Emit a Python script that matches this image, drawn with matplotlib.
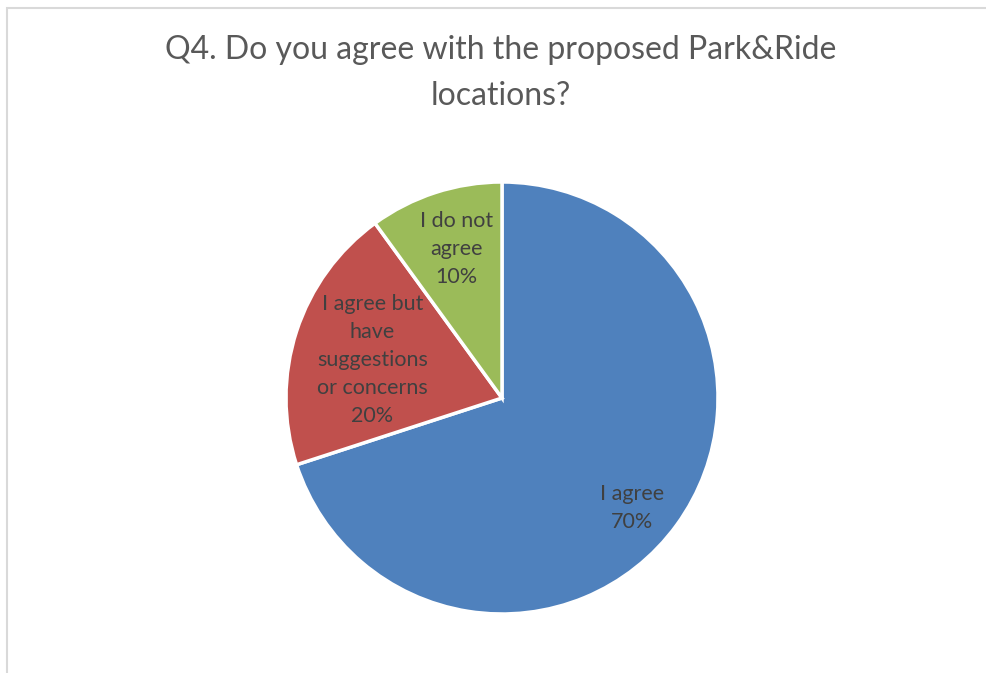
import numpy as np
import matplotlib.pyplot as plt
from matplotlib.patches import Rectangle

plt.rcParams['font.family'] = ['Lato', 'DejaVu Sans']

title = "Q4. Do you agree with the proposed Park&Ride\nlocations?"
labels = ["I agree", "I agree but\nhave\nsuggestions\nor concerns", "I do not\nagree"]
shares = [70, 20, 10]
colors = ["#4f81bd", "#c0504d", "#9bbb59"]
# label placement: (radius fraction, angle offset from wedge bisector in degrees)
label_pos = [(0.79, -4.2), (0.626, 1.7), (0.72, -1.0)]

W, H = 986, 673
fig = plt.figure(figsize=(W / 100, H / 100), dpi=100)

# light chart frame (only top and left edges are visible in the crop)
fig.patches.append(Rectangle((7 / W, -0.1), 1.2, (H - 8) / H + 0.1,
                             transform=fig.transFigure, fill=False,
                             edgecolor="#d9d9d9", linewidth=1.5))

cx, cy, r = 502, 398, 216
ax = fig.add_axes([(cx - r) / W, (H - cy - r) / H, 2 * r / W, 2 * r / H])
wedges, _ = ax.pie(shares, colors=colors, startangle=90, counterclock=False,
                   radius=1, wedgeprops=dict(edgecolor="white", linewidth=2.5))
ax.set_xlim(-1, 1)
ax.set_ylim(-1, 1)
ax.set_aspect("equal")
ax.axis("off")

for w, lab, s, (d, off) in zip(wedges, labels, shares, label_pos):
    ang = np.deg2rad((w.theta1 + w.theta2) / 2 + off)
    ax.text(d * np.cos(ang), d * np.sin(ang), f"{lab}\n{s}%",
            ha="center", va="center", fontsize=15.5, color="#404040",
            linespacing=1.5)

fig.text(501 / W, 1 - 73 / H, title, ha="center", va="center",
         fontsize=23, color="#595959", linespacing=1.65)

fig.savefig("out.png", dpi=100)
